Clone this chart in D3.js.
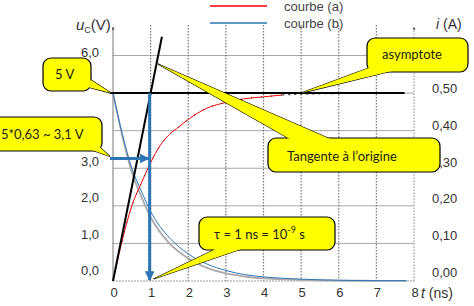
<!DOCTYPE html>
<html>
<head>
	<meta charset="utf-8">
	<title>Charge du condensateur</title>
	<style type="text/css">
		body { margin: 0; background: white; }
		svg { display: block; }
		.tick { font-family: 'Liberation Sans', Arial, sans-serif; font-size: 13px; fill: #333; }
		.call { font-family: Lato, 'Open Sans', sans-serif; font-size: 13px; fill: #222; }
	</style>
	<script src="https://d3js.org/d3.v7.min.js"></script>
</head>
<body>
	<svg width="474" height="306"></svg>
	<script type="text/javascript">
		// courbe (a) : tension u_C (V)
		var tA = [0, 0.25, 0.5, 0.75, 1, 1.25, 1.5, 1.75, 2, 2.5, 3, 3.5, 4, 4.5];
		var uA = [0, 1.1, 2.0, 2.6, 3.15, 3.6, 3.9, 4.1, 4.3, 4.6, 4.75, 4.85, 4.9, 4.95];
		// dotted tail of courbe (a) along the asymptote
		var tTail = [4.5, 5, 6, 7, 7.4];
		var uTail = [4.95, 4.97, 4.99, 5, 5];
		// courbe (b) : intensité i (A)
		var tB = [0, 0.25, 0.5, 0.75, 1, 1.25, 1.5, 2, 2.5, 3, 3.5, 4, 5, 6, 7, 7.8];
		var iB = [0.5, 0.39, 0.30, 0.24, 0.185, 0.145, 0.115, 0.072, 0.045, 0.028, 0.017, 0.011, 0.005, 0.002, 0.001, 0.001];
		// grey theoretical curve under courbe (b)
		var iG = [0.5, 0.385, 0.29, 0.225, 0.17, 0.13, 0.10, 0.06, 0.035, 0.02, 0.012, 0.007, 0.003, 0.001, 0.0005, 0.0003];
		// tangent at the origin and asymptote
		var tTan = [0, 1.3];
		var uTan = [0, 6.5];
		var asym = 5;
		var tau = 1;
		var u63 = 3.1;

		var xTicks = [0, 1, 2, 3, 4, 5, 6, 7, 8];
		var yTicks = [0, 1, 2, 3, 4, 5, 6];
		var yTickLabels = ['0,0', '1,0', '2,0', '3,0', '', '', '6,0'];
		var iTicks = [0, 0.1, 0.2, 0.3, 0.4, 0.5];
		var iTickLabels = ['0,00', '0,10', '0,20', '0,30', '0,40', '0,50'];

		var svg = d3.select('svg');

		var x = d3.scaleLinear().domain([0, 8]).range([113, 414]);
		var y = d3.scaleLinear().domain([0, 6]).range([281, 55.5]);
		var yi = d3.scaleLinear().domain([0, 0.6]).range([281, 55.5]);
		// tick labels in the picture drift a little above their gridlines
		var yLab = d3.scaleLinear().domain([0, 6]).range([270, 52]);
		var iLab = d3.scaleLinear().domain([0, 0.5]).range([272, 88]);

		var defs = svg.append('defs');
		function marker(id, col, w) {
			defs.append('marker').attr('id', id)
				.attr('viewBox', '0 0 10 10').attr('refX', 9).attr('refY', 5)
				.attr('markerWidth', w).attr('markerHeight', w).attr('orient', 'auto')
				.append('path').attr('d', 'M0,0L10,5L0,10z').attr('fill', col);
		}
		marker('ab', '#2e75b6', 3.2);
		marker('ag', '#555', 3);

		// horizontal grid
		svg.selectAll('.hg').data(yTicks.slice(1)).enter().append('line')
			.attr('x1', x(0)).attr('x2', x(8))
			.attr('y1', d => y(d)).attr('y2', d => y(d))
			.attr('stroke', '#a8a8a8').attr('stroke-width', 1);
		// vertical dotted grid
		svg.selectAll('.vg').data(xTicks.slice(1, 8)).enter().append('line')
			.attr('x1', d => x(d)).attr('x2', d => x(d))
			.attr('y1', 25).attr('y2', y(0))
			.attr('stroke', '#777').attr('stroke-width', 1.2).attr('stroke-dasharray', '1.5,1.5');

		// axes
		svg.append('line').attr('x1', x(0)).attr('x2', x(8)).attr('y1', y(0)).attr('y2', y(0))
			.attr('stroke', '#999').attr('stroke-dasharray', '2,1');
		svg.append('line').attr('x1', x(0)).attr('x2', x(0)).attr('y1', y(0)).attr('y2', 27)
			.attr('stroke', '#777').attr('marker-end', 'url(#ag)');
		svg.append('line').attr('x1', x(8)).attr('x2', x(8)).attr('y1', y(0)).attr('y2', 27)
			.attr('stroke', '#888').attr('stroke-dasharray', '1.5,1.5').attr('marker-end', 'url(#ag)');

		svg.selectAll('.xl').data(xTicks).enter().append('text').attr('class', 'tick')
			.attr('x', d => x(d) + 1).attr('y', 297).attr('text-anchor', 'middle').text(d => d);
		svg.selectAll('.yl').data(yTicks).enter().append('text').attr('class', 'tick')
			.attr('x', 99).attr('y', d => yLab(d) + 5).attr('text-anchor', 'end')
			.text((d, k) => yTickLabels[k]);
		svg.selectAll('.il').data(iTicks).enter().append('text').attr('class', 'tick')
			.attr('x', 432).attr('y', d => iLab(d) + 5).text((d, k) => iTickLabels[k]);

		var uLab = svg.append('text').attr('class', 'tick').attr('x', 76).attr('y', 30).style('font-size', '15px');
		uLab.append('tspan').text('u').style('font-style', 'italic');
		uLab.append('tspan').text('C').attr('dy', 3).style('font-size', '9px');
		uLab.append('tspan').text('(V)').attr('dy', -3);
		var iLabel = svg.append('text').attr('class', 'tick').attr('x', 436).attr('y', 29).style('font-size', '14px');
		iLabel.append('tspan').text('i').style('font-style', 'italic');
		iLabel.append('tspan').text(' (A)');
		var tLabel = svg.append('text').attr('class', 'tick').attr('x', 421).attr('y', 298).style('font-size', '14px');
		tLabel.append('tspan').text('t').style('font-style', 'italic');
		tLabel.append('tspan').text(' (ns)');

		// legend
		svg.append('line').attr('x1', 210).attr('x2', 267).attr('y1', 6).attr('y2', 6)
			.attr('stroke', 'red').attr('stroke-width', 1.3);
		svg.append('line').attr('x1', 210).attr('x2', 267).attr('y1', 23).attr('y2', 23)
			.attr('stroke', '#2e75b6').attr('stroke-width', 1.5);
		svg.append('text').attr('class', 'tick').attr('x', 284).attr('y', 11).style('fill', '#444').text('courbe (a)');
		svg.append('text').attr('class', 'tick').attr('x', 284).attr('y', 28).style('fill', '#444').text('courbe (b)');

		// curves
		var lineV = d3.line().x(d => x(d[0])).y(d => y(d[1])).curve(d3.curveMonotoneX);
		var lineI = d3.line().x(d => x(d[0])).y(d => yi(d[1])).curve(d3.curveMonotoneX);

		svg.append('path').attr('d', lineI(d3.zip(tB, iG)))
			.attr('fill', 'none').attr('stroke', '#aaa').attr('stroke-width', 1.8);
		svg.append('path').attr('d', lineI(d3.zip(tB, iB)))
			.attr('fill', 'none').attr('stroke', '#2e75b6').attr('stroke-width', 1);

		svg.append('path').attr('d', lineV(d3.zip(tA, uA)))
			.attr('fill', 'none').attr('stroke', 'red').attr('stroke-width', 1);
		svg.append('path').attr('d', lineV(d3.zip(tA, uA)))
			.attr('fill', 'none').attr('stroke', '#333').attr('stroke-width', 1.1)
			.attr('stroke-dasharray', '1,9');
		svg.append('path').attr('d', lineV(d3.zip(tTail, uTail)))
			.attr('fill', 'none').attr('stroke', '#333').attr('stroke-width', 1.2)
			.attr('stroke-dasharray', '2,4');

		// asymptote and tangent
		svg.append('line').attr('x1', x(0) - 3).attr('x2', x(7.75)).attr('y1', y(asym)).attr('y2', y(asym))
			.attr('stroke', 'black').attr('stroke-width', 2);
		svg.append('line').attr('x1', x(tTan[0])).attr('x2', x(tTan[1]))
			.attr('y1', y(uTan[0])).attr('y2', y(uTan[1]))
			.attr('stroke', 'black').attr('stroke-width', 2);

		// blue arrows
		var yArrow = y(u63) - 6;
		svg.append('line').attr('x1', x(0) - 3).attr('x2', x(tau) - 2).attr('y1', yArrow).attr('y2', yArrow)
			.attr('stroke', '#2e75b6').attr('stroke-width', 3).attr('marker-end', 'url(#ab)');
		svg.append('line').attr('x1', x(tau) - 1).attr('x2', x(tau) - 1).attr('y1', y(asym)).attr('y2', y(0) - 1)
			.attr('stroke', '#2e75b6').attr('stroke-width', 3).attr('marker-end', 'url(#ab)');

		// yellow callouts: box [x0, y0, x1, y1], pointer base (two points) and tip
		function callout(box, base, tip, lines) {
			var g = svg.append('g');
			var tri = [base[0], base[1], tip];
			var triPath = 'M' + tri.map(p => p.join(',')).join('L') + 'Z';
			g.append('path').attr('d', triPath).attr('fill', '#ffff00')
				.attr('stroke', 'black').attr('stroke-width', 1.2);
			g.append('rect').attr('x', box[0]).attr('y', box[1])
				.attr('width', box[2] - box[0]).attr('height', box[3] - box[1])
				.attr('rx', 8).attr('fill', '#ffff00').attr('stroke', 'black').attr('stroke-width', 1.2);
			g.append('path').attr('d', triPath).attr('fill', '#ffff00');
			lines(g);
		}

		callout([43, 58, 91, 91], [[84, 86], [91, 80]], [x(0) - 2, y(asym)], function (g) {
			g.append('text').attr('class', 'call').attr('x', 55).attr('y', 79).text('5 V');
		});
		callout([-10, 117, 102, 151], [[92, 140], [92, 150]], [x(0) - 3, yArrow - 2], function (g) {
			g.append('text').attr('class', 'call').attr('x', 1).attr('y', 139).text('5*0,63 ~ 3,1 V');
		});
		callout([268, 138, 440, 172], [[295, 142], [337, 142]], [158, 64], function (g) {
			g.append('text').attr('class', 'call').attr('x', 287).attr('y', 161).text('Tangente à l\u2019origine');
		});
		callout([367, 38, 468, 72], [[374, 66], [396, 70]], [x(5), y(asym)], function (g) {
			g.append('text').attr('class', 'call').attr('x', 382).attr('y', 59).text('asymptote');
		});
		callout([199, 217, 335, 250], [[222, 246], [250, 246]], [x(tau) + 3, y(0) - 2], function (g) {
			var t = g.append('text').attr('class', 'call').attr('x', 214).attr('y', 239);
			t.append('tspan').text('\u03c4 = 1 ns = 10');
			t.append('tspan').text('-9').attr('dy', -6).style('font-size', '9px');
			t.append('tspan').text(' s').attr('dy', 6);
		});
	</script>
</body>
</html>
